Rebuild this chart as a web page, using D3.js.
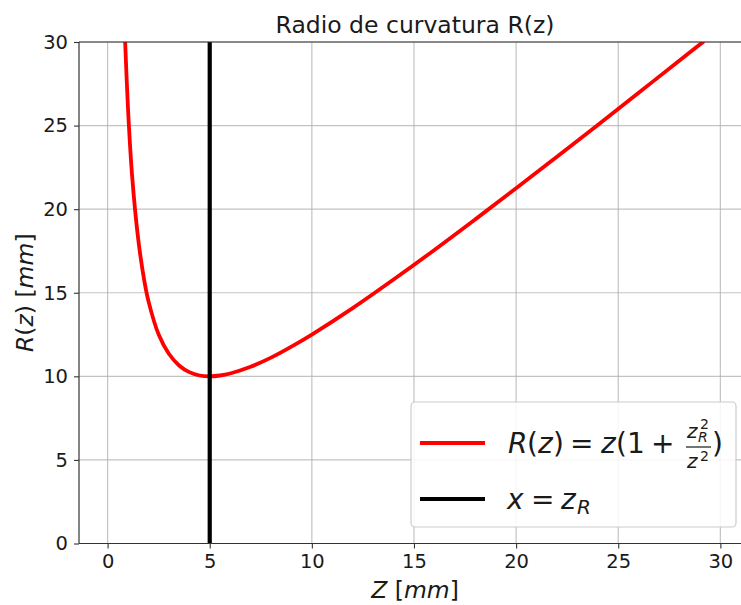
<!DOCTYPE html>
<html>
<head>
<meta charset="utf-8">
<style>
  body { margin: 0; background: white; }
  text { font-family: "DejaVu Sans", sans-serif; fill: #1a1a1a; }
  .math { font-style: italic; }
</style>
<script src="https://d3js.org/d3.v7.min.js"></script>
</head>
<body>
<script>
// values
var zVals = [0.85, 1.0, 1.2, 1.5, 1.8, 2.0, 2.5, 3.0, 3.5, 4.0, 4.5, 5.0, 5.5, 6.0, 7.0, 8.0, 9.0,
             10.0, 12.0, 14.0, 16.0, 18.0, 20.0, 22.0, 24.0, 26.0, 28.0, 29.2];
var rVals = [30.3, 26.0, 22.0, 18.2, 15.7, 14.5, 12.5, 11.35, 10.65, 10.25, 10.05, 10.0, 10.05, 10.17, 10.57, 11.12, 11.78,
             12.5, 14.08, 15.79, 17.56, 19.39, 21.25, 23.14, 25.04, 26.96, 28.9, 30.05];
var zR = 5;
var xTicks = [0, 5, 10, 15, 20, 25, 30];
var yTicks = [0, 5, 10, 15, 20, 25, 30];

var W = 741, H = 605;
var mL = 79, mR = 751, mT = 42, mB = 543.5;

var svg = d3.select("body").append("svg")
  .attr("width", W).attr("height", H);

var x = d3.scaleLinear().domain([-1.4, 31.5]).range([mL, mR]);
var y = d3.scaleLinear().domain([0, 30]).range([mB, mT]);

// grid
svg.append("g").selectAll("line").data(xTicks).enter().append("line")
  .attr("x1", d => x(d)).attr("x2", d => x(d))
  .attr("y1", mT).attr("y2", mB)
  .attr("stroke", "#b0b0b0").attr("stroke-width", 1.2).attr("opacity", 0.75);
svg.append("g").selectAll("line").data(yTicks).enter().append("line")
  .attr("x1", mL).attr("x2", mR)
  .attr("y1", d => y(d)).attr("y2", d => y(d))
  .attr("stroke", "#b0b0b0").attr("stroke-width", 1.2).attr("opacity", 0.75);

svg.append("clipPath").attr("id", "plot")
  .append("rect").attr("x", mL).attr("y", mT)
  .attr("width", mR - mL).attr("height", mB - mT);

var pts = zVals.map((z, i) => [z, rVals[i]]);
var line = d3.line().x(d => x(d[0])).y(d => y(d[1])).curve(d3.curveCatmullRom.alpha(0.5));

svg.append("path").datum(pts)
  .attr("clip-path", "url(#plot)")
  .attr("d", line)
  .attr("fill", "none").attr("stroke", "#ff0000").attr("stroke-width", 3.8);

svg.append("line")
  .attr("clip-path", "url(#plot)")
  .attr("x1", x(zR)).attr("x2", x(zR))
  .attr("y1", mT).attr("y2", mB)
  .attr("stroke", "#000").attr("stroke-width", 4.2);

// axes
var xAxis = svg.append("g").attr("transform", "translate(0," + mB + ")")
  .call(d3.axisBottom(x).tickValues(xTicks).tickSize(5).tickPadding(6));
var yAxis = svg.append("g").attr("transform", "translate(" + mL + ",0)")
  .call(d3.axisLeft(y).tickValues(yTicks).tickSize(5).tickPadding(6));
[xAxis, yAxis].forEach(function(a) {
  a.select(".domain").remove();
  a.selectAll(".tick line").attr("stroke", "#333").attr("stroke-width", 1.1);
  a.selectAll(".tick text").attr("fill", "#1a1a1a")
    .style("font-family", "DejaVu Sans").style("font-size", "19.5px");
});

// spines
svg.append("line").attr("x1", mL).attr("x2", mL).attr("y1", mT).attr("y2", mB)
  .attr("stroke", "#333").attr("stroke-width", 1.2);
svg.append("line").attr("x1", mL).attr("x2", mR).attr("y1", mB).attr("y2", mB)
  .attr("stroke", "#333").attr("stroke-width", 1.2);
svg.append("line").attr("x1", mL).attr("x2", mR).attr("y1", mT).attr("y2", mT)
  .attr("stroke", "#333").attr("stroke-width", 1.2);

// title and labels
svg.append("text").attr("x", (mL + mR) / 2).attr("y", 33)
  .attr("text-anchor", "middle").style("font-size", "23.5px")
  .text("Radio de curvatura R(z)");

var xl = svg.append("text").attr("x", (mL + mR) / 2).attr("y", 598)
  .attr("text-anchor", "middle").style("font-size", "23.5px");
xl.append("tspan").attr("class", "math").text("Z");
xl.append("tspan").text(" [");
xl.append("tspan").attr("class", "math").text("mm");
xl.append("tspan").text("]");

var yl = svg.append("text")
  .attr("transform", "translate(33," + ((mT + mB) / 2) + ") rotate(-90)")
  .attr("text-anchor", "middle").style("font-size", "23.5px");
yl.append("tspan").attr("class", "math").text("R");
yl.append("tspan").text("(");
yl.append("tspan").attr("class", "math").text("z");
yl.append("tspan").text(") [");
yl.append("tspan").attr("class", "math").text("mm");
yl.append("tspan").text("]");

// legend
var lg = svg.append("g");
lg.append("rect").attr("x", 411).attr("y", 402).attr("width", 325).attr("height", 125)
  .attr("rx", 4).attr("fill", "white").attr("fill-opacity", 0.85)
  .attr("stroke", "#cccccc").attr("stroke-width", 1.2);

lg.append("line").attr("x1", 420).attr("x2", 485).attr("y1", 443).attr("y2", 443)
  .attr("stroke", "#ff0000").attr("stroke-width", 3.8);
lg.append("line").attr("x1", 420).attr("x2", 485).attr("y1", 499).attr("y2", 499)
  .attr("stroke", "#000").attr("stroke-width", 4.2);

// mathtext pieces: [text, x, y, size, italic]
var mathPieces = [
  ["R", 508, 453, 28, true], ["(", 527, 453, 28, false], ["z", 538, 453, 28, true], [")", 553, 453, 28, false],
  ["=", 570, 453, 28, false],
  ["z", 601, 453, 28, true], ["(", 616, 453, 28, false], ["1", 627, 453, 28, false],
  ["+", 651, 453, 28, false],
  ["z", 687, 438, 20, true], ["2", 700, 429, 14, false], ["R", 698, 442, 14, true],
  ["z", 687, 468, 20, true], ["2", 700, 461, 14, false],
  [")", 712, 453, 28, false],
  ["x", 507, 509, 28, true], ["=", 531, 509, 28, false], ["z", 561, 509, 28, true], ["R", 577, 514, 20, true]
];
lg.selectAll("text.mp").data(mathPieces).enter().append("text")
  .attr("class", d => d[4] ? "mp math" : "mp")
  .attr("x", d => d[1]).attr("y", d => d[2])
  .style("font-size", d => d[3] + "px")
  .text(d => d[0]);
lg.append("line").attr("x1", 686).attr("x2", 711).attr("y1", 447).attr("y2", 447)
  .attr("stroke", "#1a1a1a").attr("stroke-width", 1.2);
</script>
</body>
</html>
